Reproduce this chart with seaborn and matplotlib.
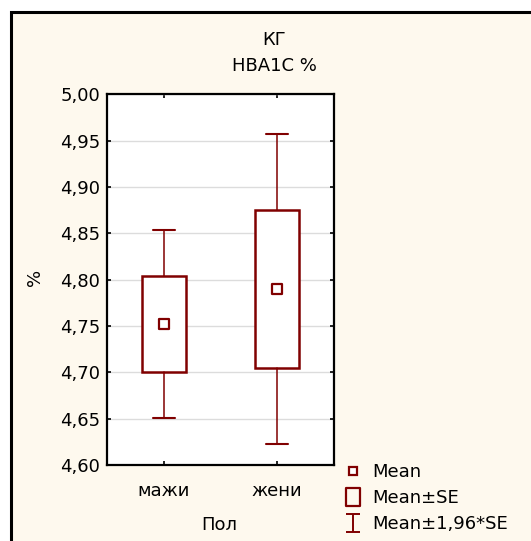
import numpy as np
import pandas as pd
import seaborn as sns
import matplotlib
matplotlib.use("Agg")
import matplotlib.pyplot as plt
from matplotlib.lines import Line2D
from matplotlib.path import Path
from matplotlib.patches import Rectangle
from matplotlib.ticker import FuncFormatter, MultipleLocator

# ---- data ----
categories = ["мажи", "жени"]
means = [4.752, 4.790]
se = [0.0518, 0.0855]
title_lines = ["КГ", "HBA1C %"]
x_label = "Пол"
y_label = "%"
legend_labels = ["Mean", "Mean±SE", "Mean±1,96*SE"]

DARK = "#800000"
CREAM = "#FEF9EE"

sns.set_style("white")
plt.rcParams["font.family"] = ["DejaVu Sans"]
plt.rcParams["text.color"] = "black"
plt.rcParams["xtick.color"] = "black"
plt.rcParams["ytick.color"] = "black"
plt.rcParams["axes.labelcolor"] = "black"
FS = 13

W, H = 531, 541
fig = plt.figure(figsize=(W / 100, H / 100), dpi=100, facecolor="white")

# figure frame
frame = Rectangle((11 / W, -0.1), 1.2, (H - 12) / H + 0.1, transform=fig.transFigure,
                  facecolor=CREAM, edgecolor="black", linewidth=2.2, zorder=-10)
fig.add_artist(frame)

ax = fig.add_axes([107 / W, (H - 465) / H, 227 / W, 370.7 / H])
ax.set_facecolor("white")

df = pd.DataFrame({"cat": categories, "mean": means, "se": se})
stats = []
for _, r in df.iterrows():
    m, s = r["mean"], r["se"]
    stats.append({"med": m, "q1": m - s, "q3": m + s,
                  "whislo": m - 1.96 * s, "whishi": m + 1.96 * s,
                  "fliers": [], "label": r["cat"]})

ax.bxp(stats, positions=np.arange(len(categories)), widths=0.39, capwidths=0.19,
       patch_artist=True, showfliers=False,
       boxprops=dict(facecolor="white", edgecolor=DARK, linewidth=1.8),
       whiskerprops=dict(color=DARK, linewidth=1.1),
       capprops=dict(color=DARK, linewidth=1.5),
       medianprops=dict(linewidth=0), zorder=3)

sns.scatterplot(data=df, x=np.arange(len(categories)), y="mean", marker="s", s=42,
                facecolor="white", edgecolor=DARK, linewidth=1.6, zorder=5, ax=ax, legend=False)

ax.set_xlim(-0.5, 1.5)
ax.set_ylim(4.60, 5.00)
ax.yaxis.set_major_locator(MultipleLocator(0.05))
ax.yaxis.set_major_formatter(FuncFormatter(lambda v, p: f"{v:.2f}".replace(".", ",")))
ax.set_xticks(np.arange(len(categories)))
ax.set_xticklabels(categories)
ax.grid(axis="y", color="#DCDCDC", linewidth=1.0, zorder=0)
ax.set_axisbelow(True)
ax.tick_params(axis="both", direction="in", length=3, width=1.2, color="black",
               labelcolor="black", labelsize=FS, top=True, right=True, bottom=True,
               left=True, labeltop=False, labelright=False, pad=5)
ax.tick_params(axis="x", pad=12)
for sp in ax.spines.values():
    sp.set_color("black")
    sp.set_linewidth(1.6)
ax.set_xlabel("")
ax.set_ylabel("")

fig.text(274 / W, 1 - 40 / H, title_lines[0], ha="center", va="center", fontsize=FS)
fig.text(274 / W, 1 - 66 / H, title_lines[1], ha="center", va="center", fontsize=FS)
fig.text(219 / W, 1 - 525 / H, x_label, ha="center", va="center", fontsize=FS)
fig.text(35 / W, 1 - 277 / H, y_label, ha="center", va="center", fontsize=FS, rotation=90)

# legend handles
rect_path = Path([(-0.4, -0.5), (0.4, -0.5), (0.4, 0.5), (-0.4, 0.5), (-0.4, -0.5)],
                 [Path.MOVETO, Path.LINETO, Path.LINETO, Path.LINETO, Path.CLOSEPOLY])
ibar_path = Path([(-0.42, 0.5), (0.42, 0.5), (0, 0.5), (0, -0.5), (-0.42, -0.5), (0.42, -0.5)],
                 [Path.MOVETO, Path.LINETO, Path.MOVETO, Path.LINETO, Path.MOVETO, Path.LINETO])
handles = [
    Line2D([], [], linestyle="none", marker="s", markersize=5.5, markerfacecolor="white",
           markeredgecolor=DARK, markeredgewidth=1.6),
    Line2D([], [], linestyle="none", marker=rect_path, markersize=12.5, markerfacecolor="none",
           markeredgecolor=DARK, markeredgewidth=1.6),
    Line2D([], [], linestyle="none", marker=ibar_path, markersize=12.5, markerfacecolor="none",
           markeredgecolor=DARK, markeredgewidth=1.4),
]
fig.legend(handles, legend_labels, loc="upper left", bbox_to_anchor=(344 / W, 1 - 463 / H),
           frameon=False, fontsize=FS, handlelength=1.0, handletextpad=0.55,
           labelspacing=0.45, borderpad=0, borderaxespad=0)

fig.savefig("out.png", dpi=100, facecolor="white")
